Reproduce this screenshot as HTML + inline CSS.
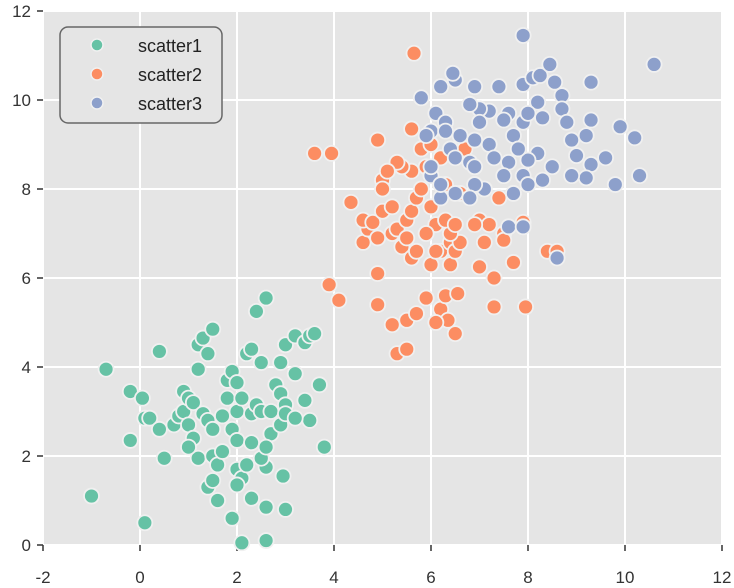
<!DOCTYPE html>
<html><head><meta charset="utf-8"><style>
body{margin:0;background:#fff;}
svg{display:block;font-family:"Liberation Sans",sans-serif;}
</style></head><body>
<svg id="chart" width="734" height="588" viewBox="0 0 734 588">
<rect x="43" y="11" width="679" height="534" fill="#e5e5e5"/>
<g id="grid"></g><g id="axes"></g><g id="points"></g>
<g>
<rect x="60" y="27" width="162" height="96" rx="8" fill="#e5e5e5" stroke="#666" stroke-width="1.5"/>
<g><circle cx="97" cy="45" r="6" fill="#66c2a5" stroke="#f0f0f0" stroke-width="1.5"/><text x="138" y="52" font-size="18" fill="#222">scatter1</text></g>
<g><circle cx="97" cy="74" r="6" fill="#fc8d62" stroke="#f0f0f0" stroke-width="1.5"/><text x="138" y="81" font-size="18" fill="#222">scatter2</text></g>
<g><circle cx="97" cy="103" r="6" fill="#8da0cb" stroke="#f0f0f0" stroke-width="1.5"/><text x="138" y="110" font-size="18" fill="#222">scatter3</text></g>
</g>
</svg>
<script>
const xTicks=[-2,0,2,4,6,8,10,12];
const yTicks=[0,2,4,6,8,10,12];
const s1x=[-1.0,0.1,-0.7,0.4,-0.2,0.05,-0.2,0.1,0.2,0.4,0.5,0.7,0.8,0.9,1.0,0.9,1.0,1.1,1.2,1.2,1.3,1.5,1.4,1.1,1.2,1.0,1.3,1.4,1.5,1.5,1.4,1.5,1.6,1.6,1.7,1.7,1.8,1.8,1.9,2.0,2.0,2.1,1.9,2.0,2.0,2.1,2.0,1.9,2.1,2.2,2.3,2.3,2.3,2.4,2.5,2.2,2.3,2.4,2.5,2.6,2.6,2.5,2.7,2.6,2.7,2.8,2.9,2.9,2.9,2.95,3.0,2.6,2.6,3.0,3.2,3.0,3.2,3.4,3.5,3.6,3.4,3.5,3.7,3.8,3.0,3.2];
const s1y=[1.1,0.5,3.95,4.35,3.45,3.3,2.35,2.85,2.85,2.6,1.95,2.7,2.9,3.0,2.7,3.45,3.3,3.2,3.95,4.5,4.65,4.85,4.3,2.4,1.95,2.2,2.95,2.8,2.6,2.0,1.3,1.45,1.0,1.8,2.1,2.9,3.3,3.7,3.9,3.65,3.0,3.3,2.6,2.35,1.7,1.5,1.35,0.6,0.05,1.8,1.05,2.3,2.95,3.15,3.0,4.3,4.4,5.25,4.1,5.55,1.75,1.95,2.5,2.2,3.0,3.6,4.1,3.4,2.7,1.55,0.8,0.85,0.1,4.5,4.7,3.15,3.85,4.55,4.7,4.75,3.25,2.8,3.6,2.2,2.95,2.85];
const s2x=[5.65,3.6,3.95,4.35,5.0,4.9,5.6,3.9,4.1,4.9,5.3,5.5,5.2,5.5,5.7,5.9,6.2,6.3,6.35,6.1,6.5,6.55,7.3,7.95,4.9,4.6,4.7,4.6,4.8,4.9,5.0,5.2,5.2,5.3,5.4,5.5,5.6,5.7,5.5,5.6,5.7,5.8,6.0,6.1,5.9,6.0,6.2,6.4,6.1,6.4,6.5,6.6,6.4,5.9,5.6,5.4,5.3,5.1,5.0,5.8,6.0,6.2,6.3,6.7,6.6,7.0,7.2,7.1,6.9,7.5,7.5,7.3,7.7,7.0,7.9,8.4,8.6,7.4,6.3,6.5];
const s2y=[11.05,8.8,8.8,7.7,8.2,9.1,9.35,5.85,5.5,5.4,4.3,4.4,4.95,5.05,5.2,5.55,5.3,5.6,5.05,5.0,4.75,5.65,5.35,5.35,6.1,6.8,7.1,7.3,7.25,6.9,7.5,7.6,7.0,7.1,6.7,6.9,6.45,6.6,7.3,7.5,7.8,8.0,7.6,7.2,7.0,6.3,6.6,6.3,6.6,6.8,6.6,6.8,7.0,8.5,8.4,8.5,8.6,8.4,8.0,8.9,9.0,8.7,8.1,8.9,7.9,7.3,7.2,6.8,7.2,7.0,6.85,6.0,6.35,6.25,7.25,6.6,6.6,7.8,7.3,7.2];
const s3x=[7.9,10.6,6.2,6.5,6.45,5.8,6.1,6.9,7.4,7.9,8.1,8.25,8.45,8.55,8.7,9.3,8.2,7.2,7.6,7.5,7.0,6.8,6.3,6.0,6.3,6.6,5.9,6.9,7.0,7.2,7.3,7.6,7.7,7.9,8.0,8.3,8.7,8.8,8.9,9.2,9.3,9.9,10.2,9.0,9.3,9.6,9.2,8.9,9.8,10.3,8.5,8.2,8.0,7.8,7.9,7.5,7.1,6.9,6.5,6.2,6.0,6.0,6.2,6.4,6.5,6.8,6.9,8.0,8.3,7.6,7.9,8.6,7.7,6.8];
const s3y=[11.45,10.8,10.3,10.45,10.6,10.05,9.7,10.3,10.3,10.35,10.5,10.55,10.8,10.4,10.1,10.4,9.95,9.75,9.7,9.55,9.8,9.9,9.5,9.3,9.3,9.2,9.2,9.1,9.5,9.0,8.7,8.6,9.2,9.5,9.7,9.6,9.8,9.5,9.1,9.2,9.55,9.4,9.15,8.75,8.55,8.7,8.25,8.3,8.1,8.3,8.5,8.8,8.65,8.9,8.3,8.3,8.0,8.1,7.9,7.8,8.3,8.5,8.1,8.9,8.7,8.6,8.5,8.1,8.2,7.15,7.15,6.45,7.9,7.8];
const NS='http://www.w3.org/2000/svg';
const X=v=>140+(v)*48.5;
const Y=v=>545-(v)*44.5;
function mk(tag,attrs,parent){const e=document.createElementNS(NS,tag);for(const k in attrs)e.setAttribute(k,attrs[k]);parent.appendChild(e);return e;}
const grid=document.getElementById('grid'),axes=document.getElementById('axes'),pts=document.getElementById('points');
xTicks.forEach(t=>{
  const l=mk('line',{x1:X(t),x2:X(t),y1:11,y2:545,stroke:'#fff','stroke-width':2},grid);
  
  
  const tk=mk('line',{x1:X(t),x2:X(t),y1:545,y2:551,stroke:'#333','stroke-width':1.5},axes);
  
  
  const tx=mk('text',{x:X(t),y:583,'text-anchor':'middle','font-size':17,fill:'#333'},axes);
  tx.textContent=t;
  
  
});
yTicks.forEach(t=>{
  const l=mk('line',{x1:43,x2:722,y1:Y(t),y2:Y(t),stroke:'#fff','stroke-width':2},grid);
  
  
  const tk=mk('line',{x1:37,x2:43,y1:Y(t),y2:Y(t),stroke:'#333','stroke-width':1.5},axes);
  
  
  const tx=mk('text',{x:31,y:Y(t)+6,'text-anchor':'end','font-size':17,fill:'#333'},axes);
  tx.textContent=t;
  
  
});
function series(xs,ys,color,name){
  xs.forEach((v,i)=>{
    const c=mk('circle',{cx:X(v),cy:Y(ys[i]),r:7.5,fill:color,stroke:'#f0f0f0','stroke-width':1.8},pts);
    
    
  });
}
series(s1x,s1y,'#66c2a5','scatter1');
series(s2x,s2y,'#fc8d62','scatter2');
series(s3x,s3y,'#8da0cb','scatter3');
</script>
</body></html>
